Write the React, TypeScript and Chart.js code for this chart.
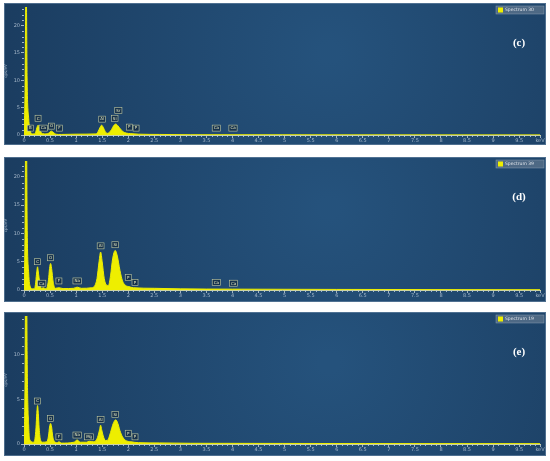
import React, { useEffect, useRef } from 'react';
import { Chart, registerables } from 'chart.js';
Chart.register(...registerables);

// ---- Spectrum (c) ----
const energyC = [0, 0.02, 0.04, 0.06, 0.09, 0.12, 0.16, 0.2, 0.23, 0.25, 0.27, 0.29, 0.32, 0.36, 0.42, 0.47, 0.5, 0.53, 0.56, 0.6, 0.66, 0.72, 1.0, 1.38, 1.42, 1.46, 1.49, 1.52, 1.56, 1.6, 1.64, 1.68, 1.72, 1.76, 1.8, 1.85, 1.9, 1.96, 2.05, 2.2, 2.6, 3.2, 9.9];
const countsC = [0, 8, 30, 10, 3, 0.8, 0.2, 0.2, 0.7, 1.4, 1.8, 1.4, 0.6, 0.25, 0.2, 0.3, 0.6, 0.7, 0.5, 0.2, 0.1, 0.1, 0.15, 0.2, 0.6, 1.4, 1.8, 1.4, 0.6, 0.3, 0.5, 1.0, 1.7, 2.0, 1.7, 1.1, 0.6, 0.35, 0.25, 0.15, 0.1, 0.05, 0.02];
const peakNamesC = ['B', 'C', 'Ca', 'O', 'F', 'Al', 'Si', 'Sr', 'P', 'P', 'Ca', 'Ca'];
const peakEnergiesC = [0.12, 0.27, 0.37, 0.53, 0.68, 1.5, 1.74, 1.81, 2.02, 2.15, 3.69, 4.01];
const peakLevelsC = [1.26, 3.06, 1.26, 1.62, 1.26, 2.9, 3.06, 4.5, 1.44, 1.26, 1.26, 1.26];

// ---- Spectrum (d) ----
const energyD = [0, 0.02, 0.04, 0.06, 0.09, 0.12, 0.16, 0.2, 0.22, 0.24, 0.26, 0.28, 0.31, 0.34, 0.37, 0.41, 0.44, 0.47, 0.49, 0.51, 0.53, 0.56, 0.6, 0.67, 0.75, 0.95, 1.02, 1.1, 1.3, 1.36, 1.4, 1.44, 1.47, 1.5, 1.54, 1.58, 1.62, 1.66, 1.7, 1.75, 1.79, 1.84, 1.89, 1.95, 2.01, 2.1, 2.5, 3.0, 4.0, 6.0, 9.9];
const countsD = [0, 10, 40, 12, 3, 0.6, 0.2, 0.2, 1.0, 2.8, 4.1, 2.8, 0.8, 0.3, 0.4, 0.25, 0.4, 1.8, 3.8, 4.7, 3.8, 1.4, 0.3, 0.4, 0.25, 0.3, 0.5, 0.3, 0.4, 0.8, 2.0, 5.0, 6.7, 5.0, 2.0, 0.9, 0.8, 2.5, 5.5, 7.0, 6.0, 3.5, 1.6, 0.8, 0.6, 0.4, 0.3, 0.2, 0.15, 0.1, 0.05];
const peakNamesD = ['C', 'Ca', 'O', 'F', 'Na', 'Al', 'Si', 'P', 'P', 'Ca', 'Ca'];
const peakEnergiesD = [0.26, 0.34, 0.51, 0.67, 1.02, 1.47, 1.75, 2.0, 2.13, 3.69, 4.02];
const peakLevelsD = [5.0, 1.2, 5.7, 1.6, 1.6, 7.8, 8.0, 2.2, 1.35, 1.35, 1.2];

// ---- Spectrum (e) ----
const energyE = [0, 0.02, 0.04, 0.06, 0.09, 0.12, 0.18, 0.21, 0.23, 0.245, 0.26, 0.275, 0.29, 0.32, 0.36, 0.44, 0.47, 0.49, 0.51, 0.53, 0.55, 0.59, 0.64, 0.67, 0.72, 0.96, 1.02, 1.08, 1.2, 1.25, 1.33, 1.38, 1.42, 1.45, 1.47, 1.49, 1.52, 1.56, 1.6, 1.64, 1.68, 1.72, 1.76, 1.8, 1.84, 1.89, 1.95, 2.05, 2.2, 2.6, 3.2, 9.9];
const countsE = [0, 7, 30, 10, 2, 0.4, 0.2, 0.6, 1.8, 3.4, 4.3, 3.4, 1.8, 0.4, 0.2, 0.25, 0.9, 1.9, 2.3, 1.9, 0.9, 0.25, 0.15, 0.25, 0.1, 0.2, 0.45, 0.2, 0.2, 0.3, 0.25, 0.4, 0.9, 1.6, 2.1, 1.6, 0.9, 0.4, 0.4, 0.9, 1.7, 2.4, 2.7, 2.3, 1.5, 0.8, 0.4, 0.25, 0.15, 0.12, 0.08, 0.04];
const peakNamesE = ['C', 'O', 'F', 'Na', 'Mg', 'Al', 'Si', 'P', 'P'];
const peakEnergiesE = [0.26, 0.51, 0.67, 1.02, 1.25, 1.47, 1.75, 2.0, 2.13];
const peakLevelsE = [4.8, 2.85, 0.8, 1.0, 0.8, 2.75, 3.3, 1.2, 0.8];

// ---- Axis ticks ----
const xMajorTicks = [0, 0.5, 1, 1.5, 2, 2.5, 3, 3.5, 4, 4.5, 5, 5.5, 6, 6.5, 7, 7.5, 8, 8.5, 9, 9.5, 9.9];
const xTickLabels = ['0', '0.5', '1', '1.5', '2', '2.5', '3', '3.5', '4', '4.5', '5', '5.5', '6', '6.5', '7', '7.5', '8', '8.5', '9', '9.5', 'keV'];
const yMajorTicks = [0, 5, 10, 15, 20];

const YELLOW = 'rgb(238,238,0)';
const TICK_COLOR = 'rgba(185,200,215,0.85)';

type PanelDef = {
  top: number; height: number; yMax: number; axisH: number; padTop: number;
  name: string; letter: string;
  energy: number[]; counts: number[];
  peakNames: string[]; peakEnergies: number[]; peakLevels: number[];
};

const panels: PanelDef[] = [
  { top: 3, height: 142, yMax: 23.4, axisH: 10, padTop: 2, name: 'Spectrum 30', letter: '(c)', energy: energyC, counts: countsC, peakNames: peakNamesC, peakEnergies: peakEnergiesC, peakLevels: peakLevelsC },
  { top: 157, height: 145, yMax: 22.8, axisH: 12, padTop: 3, name: 'Spectrum 39', letter: '(d)', energy: energyD, counts: countsD, peakNames: peakNamesD, peakEnergies: peakEnergiesD, peakLevels: peakLevelsD },
  { top: 312, height: 144, yMax: 14.3, axisH: 12, padTop: 2, name: 'Spectrum 19', letter: '(e)', energy: energyE, counts: countsE, peakNames: peakNamesE, peakEnergies: peakEnergiesE, peakLevels: peakLevelsE },
];

const PANEL_LEFT = 4;
const PANEL_W = 542;

function Panel({ p }: { p: PanelDef }) {
  const ref = useRef<HTMLCanvasElement | null>(null);
  useEffect(() => {
    if (!ref.current) return;
    const bgPlugin = {
      id: 'bg',
      beforeDraw(chart: any) {
        const { ctx, width, height } = chart;
        ctx.save();
        const g = ctx.createRadialGradient(width * 0.6, height * 0.35, 10, width * 0.6, height * 0.35, width * 0.65);
        g.addColorStop(0, 'rgb(37,82,124)');
        g.addColorStop(1, 'rgb(26,59,94)');
        ctx.fillStyle = g;
        ctx.fillRect(0, 0, width, height);
        ctx.strokeStyle = 'rgba(100,130,160,0.7)';
        ctx.lineWidth = 1;
        ctx.strokeRect(0.5, 0.5, width - 1, height - 1);
        ctx.restore();
      },
    };
    const decoPlugin = {
      id: 'deco',
      afterDraw(chart: any) {
        const { ctx } = chart;
        const xs = chart.scales.x;
        const ys = chart.scales.y;
        ctx.save();
        // minor ticks
        ctx.strokeStyle = TICK_COLOR;
        ctx.lineWidth = 1;
        ctx.beginPath();
        for (let k = 1; k < 99; k++) {
          if (k % 5 === 0) continue;
          const px = Math.round(xs.getPixelForValue(k / 10)) + 0.5;
          ctx.moveTo(px, ys.bottom);
          ctx.lineTo(px, ys.bottom + 2);
        }
        for (let k = 1; k < Math.floor(p.yMax) + 1; k++) {
          if (k % 5 === 0) continue;
          const py = Math.round(ys.getPixelForValue(k)) + 0.5;
          ctx.moveTo(xs.left - 2, py);
          ctx.lineTo(xs.left, py);
        }
        ctx.stroke();
        // peak labels
        ctx.font = '4px "DejaVu Sans"';
        ctx.textAlign = 'center';
        ctx.textBaseline = 'middle';
        p.peakNames.forEach((nm, i) => {
          const px = xs.getPixelForValue(p.peakEnergies[i]);
          const py = ys.getPixelForValue(p.peakLevels[i]);
          const tw = ctx.measureText(nm).width;
          const w = Math.max(6, tw + 3);
          const h = 6;
          ctx.fillStyle = 'rgba(22,48,75,0.95)';
          ctx.fillRect(px - w / 2, py - h / 2, w, h);
          ctx.strokeStyle = 'rgba(215,220,170,0.9)';
          ctx.lineWidth = 0.6;
          ctx.strokeRect(px - w / 2, py - h / 2, w, h);
          ctx.fillStyle = 'rgb(230,232,190)';
          ctx.fillText(nm, px, py + 0.3);
        });
        // legend
        const lx = 492, ly = 3, lw = 48, lh = 8;
        ctx.fillStyle = 'rgba(95,118,142,0.75)';
        ctx.fillRect(lx, ly, lw, lh);
        ctx.strokeStyle = 'rgba(140,160,180,0.8)';
        ctx.lineWidth = 0.6;
        ctx.strokeRect(lx, ly, lw, lh);
        ctx.fillStyle = YELLOW;
        ctx.fillRect(lx + 2, ly + 1.5, 5, 5);
        ctx.fillStyle = 'rgb(225,230,235)';
        ctx.font = '4.5px "DejaVu Sans"';
        ctx.textAlign = 'left';
        ctx.fillText(chart.data.datasets[0].label, lx + 9, ly + lh / 2 + 0.3);
        // panel letter
        ctx.fillStyle = 'white';
        ctx.font = 'bold 11px "Liberation Serif"';
        ctx.textAlign = 'center';
        ctx.fillText(p.letter, 515, 40);
        ctx.restore();
      },
    };
    const chart = new Chart(ref.current, {
      type: 'line',
      data: {
        datasets: [{
          label: p.name,
          data: p.energy.map((e, i) => ({ x: e, y: p.counts[i] })),
          borderColor: YELLOW,
          backgroundColor: YELLOW,
          borderWidth: 1,
          pointRadius: 0,
          fill: 'origin',
          cubicInterpolationMode: 'monotone',
        }],
      },
      options: {
        responsive: false,
        animation: false,
        layout: { padding: { left: 0, right: 6, top: p.padTop, bottom: 0 } },
        plugins: { legend: { display: false }, tooltip: { enabled: false } },
        scales: {
          x: {
            type: 'linear', min: 0, max: 9.9,
            afterBuildTicks: (s: any) => { s.ticks = xMajorTicks.map((v) => ({ value: v })); },
            afterFit: (s: any) => { s.height = p.axisH; },
            ticks: {
              autoSkip: false, maxRotation: 0, padding: 0,
              color: TICK_COLOR, font: { size: 5, family: 'DejaVu Sans' },
              callback: (_v: any, i: number) => xTickLabels[i],
            },
            grid: { display: true, drawOnChartArea: false, drawTicks: true, tickLength: 3, tickColor: TICK_COLOR, color: 'transparent' },
            border: { display: true, color: 'rgba(225,228,160,0.9)', width: 1 },
          },
          y: {
            type: 'linear', min: 0, max: p.yMax,
            afterBuildTicks: (s: any) => { s.ticks = yMajorTicks.filter((v) => v <= p.yMax).map((v) => ({ value: v })); },
            afterFit: (s: any) => { s.width = 20; },
            ticks: {
              padding: 1, color: TICK_COLOR, font: { size: 5, family: 'DejaVu Sans' },
            },
            title: { display: true, text: 'cps/eV', color: TICK_COLOR, font: { size: 4, family: 'DejaVu Sans' }, padding: 0 },
            grid: { display: true, drawOnChartArea: false, drawTicks: true, tickLength: 3, tickColor: TICK_COLOR, color: 'transparent' },
            border: { display: false },
          },
        },
      },
      plugins: [bgPlugin, decoPlugin],
    } as any);
    return () => chart.destroy();
  }, [p]);
  return (
    <canvas
      ref={ref}
      width={PANEL_W}
      height={p.height}
      style={{ position: 'absolute', left: PANEL_LEFT, top: p.top, width: PANEL_W, height: p.height }}
    />
  );
}

export default function App() {
  return (
    <div style={{ position: 'absolute', left: 0, top: 0, width: 550, height: 461, background: 'white' }}>
      {panels.map((p) => <Panel key={p.letter} p={p} />)}
    </div>
  );
}
